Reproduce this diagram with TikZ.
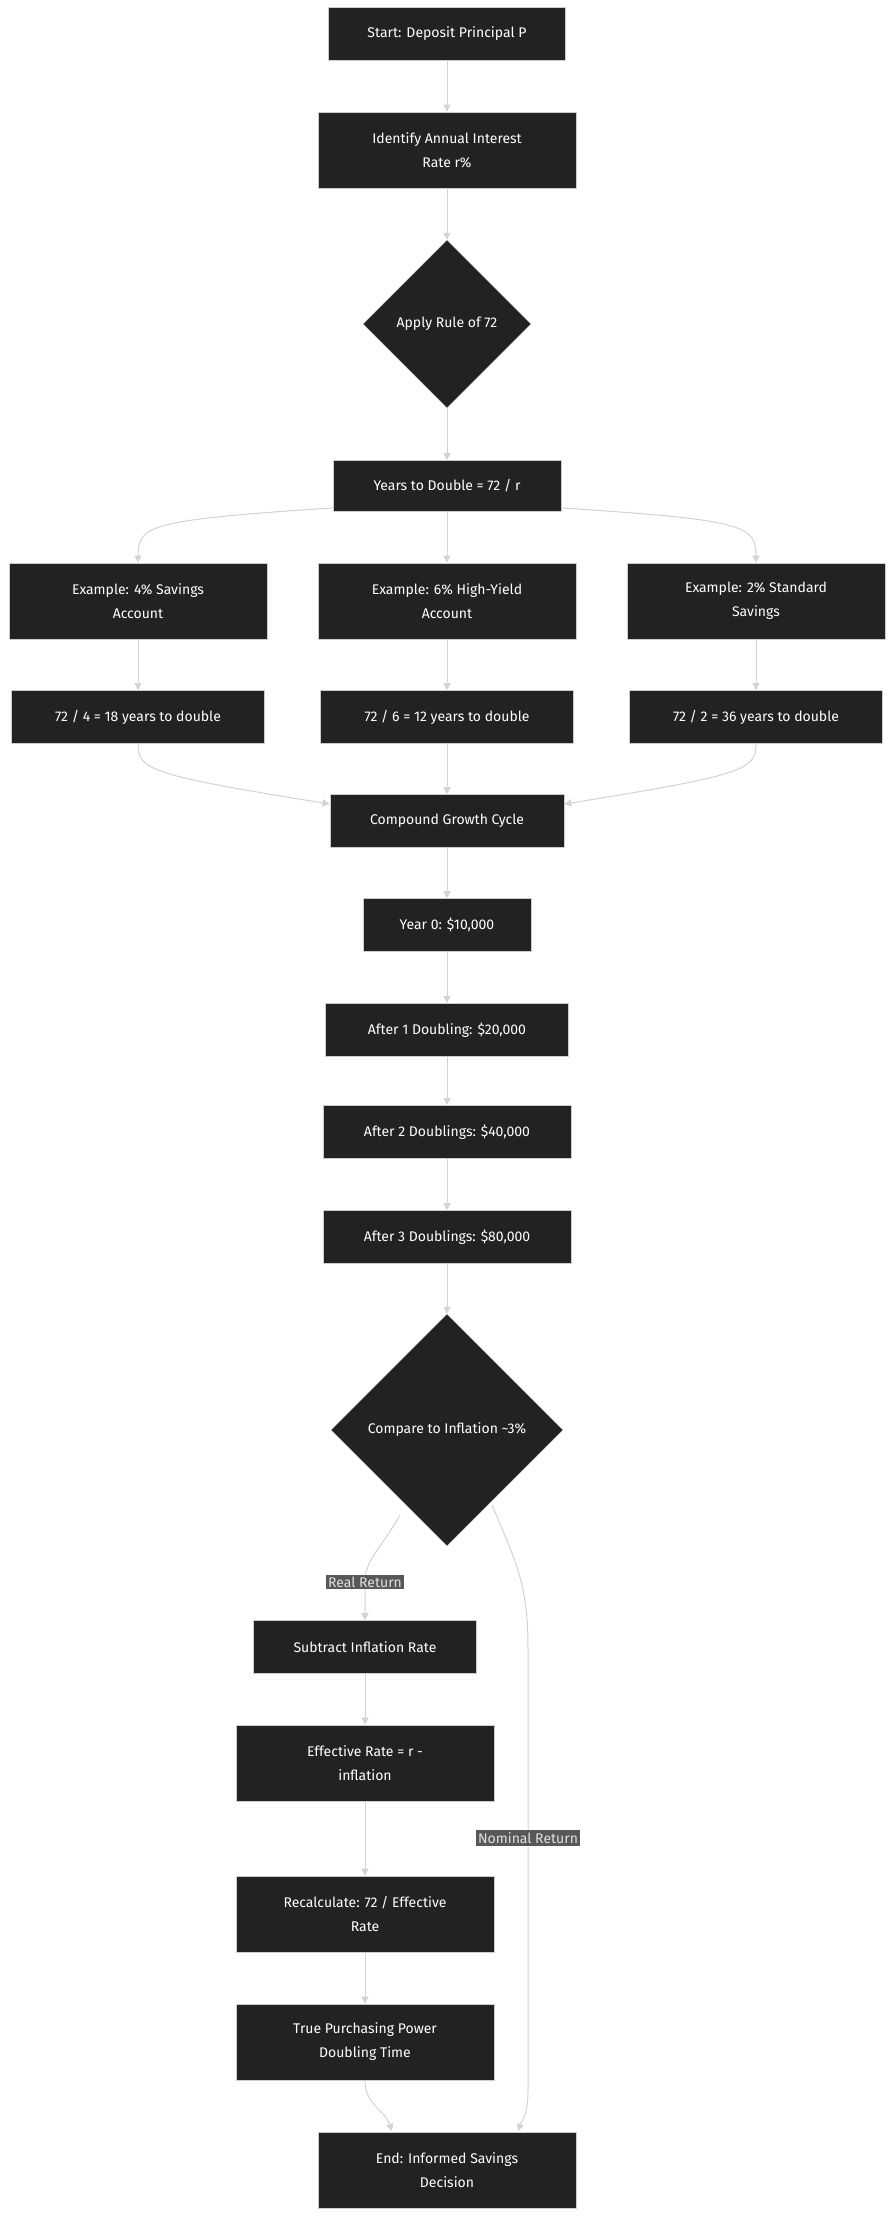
\documentclass[tikz,border=0pt]{standalone}
\usepackage{fontspec}
\setmainfont{Fira Sans}
\usetikzlibrary{shapes.geometric,arrows.meta}
\definecolor{nodefill}{HTML}{222222}
\definecolor{nodeline}{HTML}{CCCCCC}
\definecolor{edge}{HTML}{D3D3D3}
\definecolor{lblbg}{HTML}{585858}
\begin{document}
\begin{tikzpicture}[x=1pt,y=-1pt,
  box/.style={draw=nodeline,line width=0.8pt,fill=nodefill,text=white,font=\fontsize{14}{24}\selectfont,align=center,inner sep=0pt},
  dia/.style={diamond,draw=nodeline,fill=nodefill,text=white,font=\fontsize{14}{24}\selectfont,inner sep=0pt,aspect=1},
  lbl/.style={fill=lblbg,text=white!88!black,font=\fontsize{14}{17}\selectfont,inner sep=2pt},
  ar/.style={draw=edge,line width=1pt,-{Triangle[length=7pt,width=7pt]}}]
\useasboundingbox[fill=white] (0,0) rectangle (896,2223);
\node[box,minimum width=237,minimum height=53] (start) at (447,34) {Start: Deposit Principal P};
\node[box,minimum width=258,minimum height=76] (ident) at (447,150) {Identify Annual Interest\\Rate r\%};
\node[dia,minimum width=168,minimum height=168] (rule) at (447,324) {Apply Rule of 72};
\node[box,minimum width=228,minimum height=51] (years) at (447,486) {Years to Double = 72 / r};
\node[box,minimum width=258,minimum height=76] (exa) at (138,601) {Example: 4\% Savings\\Account};
\node[box,minimum width=258,minimum height=76] (exb) at (447,601) {Example: 6\% High-Yield\\Account};
\node[box,minimum width=258,minimum height=76] (exc) at (756,601) {Example: 2\% Standard\\Savings};
\node[box,minimum width=253,minimum height=53] (ca) at (138,717) {72 / 4 = 18 years to double};
\node[box,minimum width=253,minimum height=53] (cb) at (447,717) {72 / 6 = 12 years to double};
\node[box,minimum width=253,minimum height=53] (cc) at (756,717) {72 / 2 = 36 years to double};
\node[box,minimum width=234,minimum height=53] (comp) at (447,821) {Compound Growth Cycle};
\node[box,minimum width=168,minimum height=53] (y0) at (447,925) {Year 0: \$10,000};
\node[box,minimum width=243,minimum height=53] (a1) at (447,1030) {After 1 Doubling: \$20,000};
\node[box,minimum width=248,minimum height=53] (a2) at (447,1132) {After 2 Doublings: \$40,000};
\node[box,minimum width=248,minimum height=53] (a3) at (447,1237) {After 3 Doublings: \$80,000};
\node[dia,minimum width=232,minimum height=232] (infl) at (447,1430) {Compare to Inflation \textasciitilde3\%};
\node[box,minimum width=223,minimum height=53] (sub) at (365,1647) {Subtract Inflation Rate};
\node[box,minimum width=258,minimum height=76] (eff) at (365,1763) {Effective Rate = r -\\inflation};
\node[box,minimum width=258,minimum height=76] (rec) at (365,1914) {Recalculate: 72 / Effective\\Rate};
\node[box,minimum width=258,minimum height=76] (tru) at (365,2042) {True Purchasing Power\\Doubling Time};
\node[box,minimum width=258,minimum height=76] (end) at (447,2170) {End: Informed Savings\\Decision};
\coordinate (rr) at (365,1582);
\coordinate (nr) at (528,1838);
\draw[ar] (start) -- (ident);
\draw[ar] (ident) -- (rule);
\draw[ar] (rule) -- (years);
\draw[ar] (years.south west) ++(0,-4) .. controls (150,520) and (138,525) .. (exa.north);
\draw[ar] (years) -- (exb);
\draw[ar] (years.south east) ++(0,-4) .. controls (744,520) and (756,525) .. (exc.north);
\draw[ar] (exa) -- (ca);
\draw[ar] (exb) -- (cb);
\draw[ar] (exc) -- (cc);
\draw[ar] (ca.south) .. controls (138,770) and (150,775) .. (comp.west |- 0,804);
\draw[ar] (cb) -- (comp);
\draw[ar] (cc.south) .. controls (756,770) and (744,775) .. (comp.east |- 0,804);
\draw[ar] (comp) -- (y0);
\draw[ar] (y0) -- (a1);
\draw[ar] (a1) -- (a2);
\draw[ar] (a2) -- (a3);
\draw[ar] (a3) -- (infl);
\draw[ar] (400,1515) .. controls (380,1550) and (365,1560) .. (rr) -- (sub.north);
\draw[ar] (sub) -- (eff);
\draw[ar] (eff) -- (rec);
\draw[ar] (rec) -- (tru);
\draw[ar] (tru.south) .. controls (365,2105) and (385,2110) .. (392,2131);
\draw[ar] (492,1505) .. controls (520,1570) and (528,1590) .. (528,1650) -- (nr) -- (528,2090) .. controls (528,2115) and (522,2120) .. (518,2131);
\node[lbl] (rrl) at (rr) {Real Return};
\node[lbl] (nrl) at (nr) {Nominal Return};
\end{tikzpicture}
\end{document}
